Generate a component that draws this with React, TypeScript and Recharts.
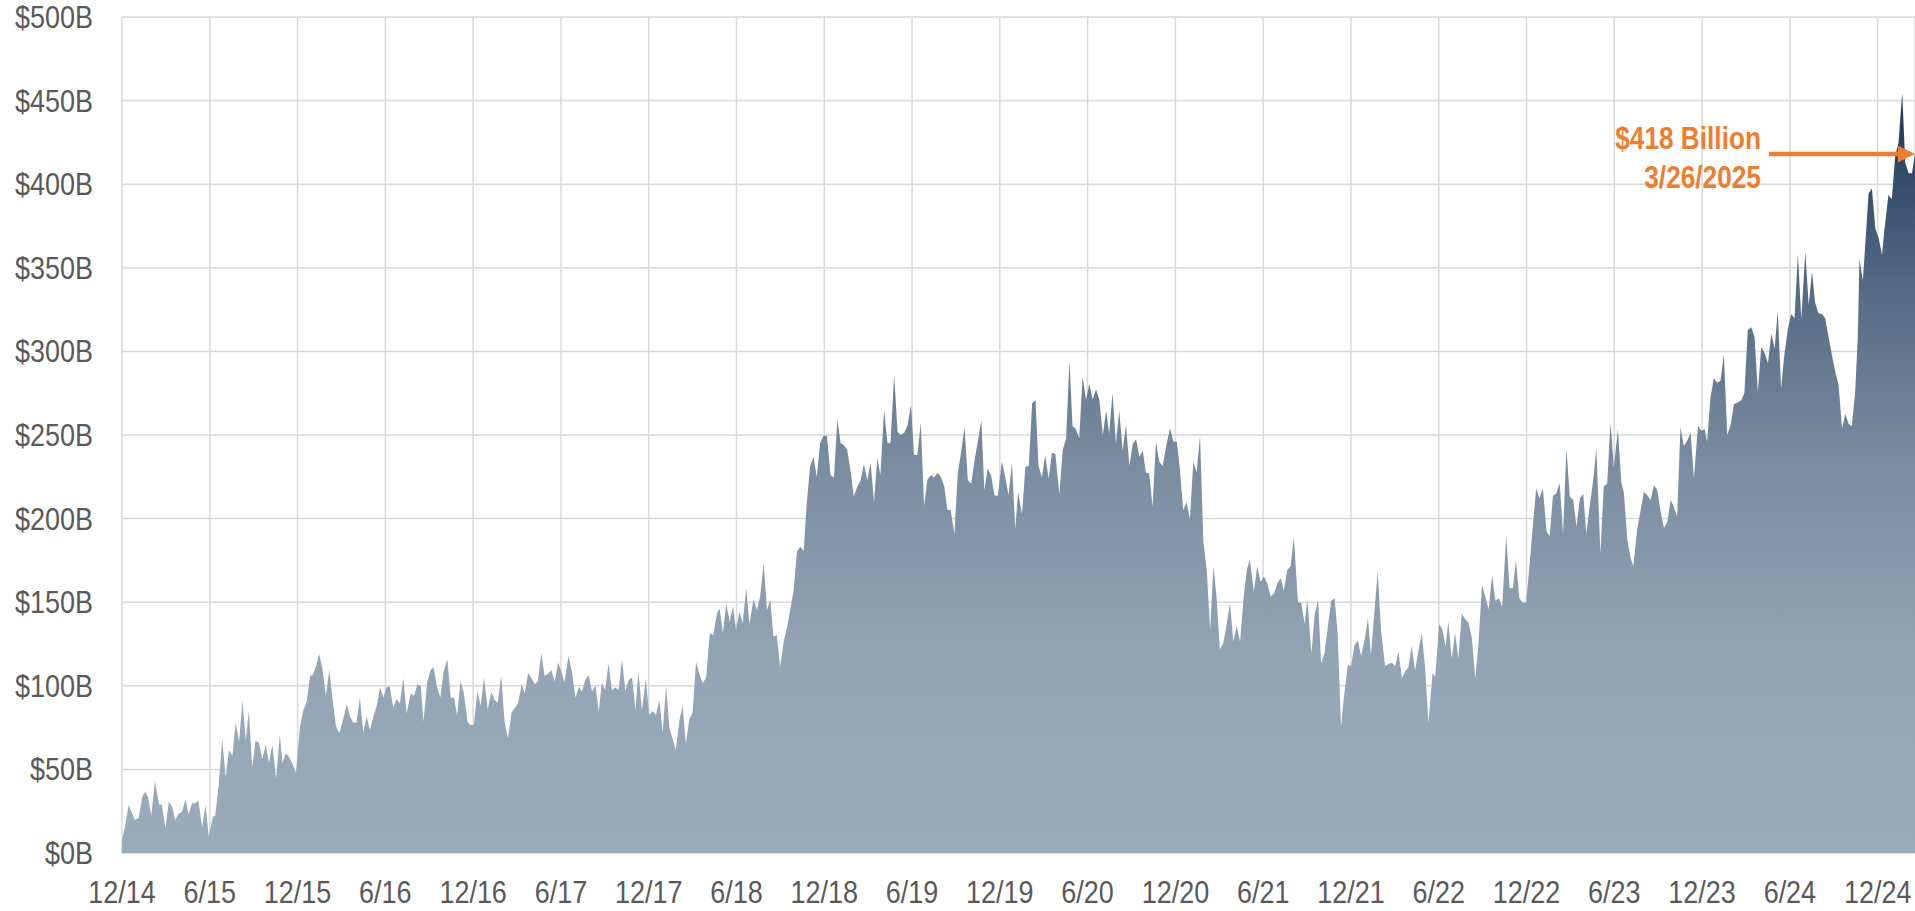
import { AreaChart, Area, XAxis, YAxis, CartesianGrid, ReferenceLine } from "recharts";

/* colours */
const C = {
  grid:   "#d9d9d9",
  text:   "#595959",
  orange: "#ed7d31",
};

// the reference uses a narrow face; Liberation Sans squeezed horizontally
const FONT = "'Liberation Sans', Arial, sans-serif";

// [weeks since 12/2014, $ billions]
const dec14_aug16: [number, number][] = [
  [0, 8], [0.8, 14.8], [2, 28.7], [3.8, 19.7], [5, 21.3], [6, 33.7], [6.9, 36.7], [7.7, 33.7], [8.7, 22.3],
  [9.8, 43], [11, 29], [11.8, 29], [12.9, 14.8], [13.9, 30.7], [14.9, 27.7], [15.8, 19.7], [16.8, 23.3],
  [17.8, 24.7], [18.9, 32], [19.8, 23], [20.8, 29.7], [21.8, 29.7], [22.7, 31.3], [23.8, 15.4], [24.8, 28.7],
  [25.8, 9.8], [27, 21.7], [27.7, 22.3], [28.7, 39.7], [29.8, 68], [30.8, 45.3], [31.8, 61.6], [32.8, 58],
  [33.8, 78], [34.8, 66.6], [35.8, 91], [36.8, 67.6], [37.7, 85], [38.7, 51.2], [39.7, 67.2], [40.7, 66],
  [41.7, 56], [42.7, 64.6], [43.7, 54], [44.7, 65], [45.8, 44.7], [46.9, 70.6], [47.7, 54], [48.7, 59.6],
  [49.7, 57.2], [50.7, 53.2], [51.7, 48], [52.9, 75.6], [53.9, 85.5], [54.9, 90.5], [55.9, 105.9],
  [56.7, 106.5], [57.7, 111.8], [58.6, 119], [59.6, 109.8], [60.6, 93.9], [61.6, 109.5], [62.6, 91.5],
  [63.6, 75.6], [64.6, 71.6], [65.6, 79], [66.8, 89], [67.8, 81.5], [68.7, 78], [69.7, 78], [70.7, 93],
  [71.7, 72], [72.7, 81.5], [73.7, 73.6], [74.7, 81.5], [75.7, 88], [76.7, 99], [77.7, 93], [78.7, 99.5],
  [79.6, 99.5], [80.6, 87], [81.6, 92], [82.6, 89.5], [83.6, 104.5], [84.6, 83.5], [85.8, 95.5], [86.8, 94],
  [87.8, 101],
];

const sep16_may18: [number, number][] = [
  [88.8, 99.9], [89.6, 78.5], [90.7, 102], [91.7, 109.4], [92.6, 111], [93.6, 99.5], [94.6, 93],
  [95.6, 108.5], [96.7, 115.8], [97.7, 92.9], [98.7, 93], [99.6, 82], [100.6, 103], [101.6, 95.5],
  [102.7, 78.5], [103.6, 76.6], [104.6, 76.6], [105.6, 97], [106.6, 88], [107.6, 105], [108.7, 86],
  [109.8, 96.5], [110.7, 91.5], [111.7, 90], [112.7, 106.5], [113.7, 78.5], [114.7, 68.6], [115.8, 84],
  [116.7, 86.5], [117.7, 89.5], [118.8, 101], [119.7, 95.5], [120.7, 107.5], [121.7, 104.5], [122.7, 101],
  [123.6, 102.5], [124.6, 119.4], [125.6, 106], [126.6, 107], [127.6, 109.4], [128.6, 102.5], [129.6, 113.8],
  [130.6, 108.5], [131.5, 101.9], [132.7, 117.8], [133.7, 108.5], [134.8, 93], [135.8, 99.5], [136.7, 96.5],
  [137.7, 103.5], [138.7, 106.5], [139.7, 96.5], [140.7, 100.5], [141.7, 84.5], [142.6, 101.9], [143.6, 97.5],
  [144.6, 113.4], [145.6, 97.5], [146.6, 99], [147.6, 97.5], [148.6, 115.8], [149.6, 97], [150.6, 103.5],
  [151.6, 105], [152.6, 85.5], [153.5, 108.5], [154.5, 85.5], [155.7, 104], [156.7, 82.5], [157.7, 85],
  [158.7, 82.5], [159.7, 91.5], [160.7, 72], [161.7, 100], [162.7, 74.6], [163.6, 68.6], [164.6, 61.6],
  [165.6, 78.5], [166.6, 88.5], [167.6, 65.2], [168.6, 80], [169.6, 84], [170.6, 114.4], [171.6, 107],
  [172.6, 101.5], [173.6, 105], [174.7, 131.4], [175.7, 130.4], [176.9, 143.7],
];

const may18_jan20: [number, number][] = [
  [177.6, 146.3], [178.6, 131.4], [179.6, 149], [180.6, 138.4], [181.6, 147.3], [182.5, 133.4], [183.5, 144.3],
  [184.5, 137.4], [185.5, 158.3], [186.5, 137], [187.7, 151.7], [188.7, 145.3], [189.7, 153.7], [190.7, 173.2],
  [191.7, 145.3], [192.7, 151.3], [193.6, 129.4], [194.6, 130.4], [195.6, 111.4], [196.6, 125.4],
  [197.6, 134.4], [198.6, 145.3], [199.6, 156.9], [200.6, 180.2], [201.6, 183.2], [202.6, 180.8],
  [203.5, 209.1], [204.5, 231], [205.5, 237], [206.5, 225], [207.5, 245], [208.5, 249.6], [209.5, 249.6],
  [210.6, 226], [211.6, 224.6], [212.6, 258.9], [213.6, 245], [214.5, 244], [215.5, 241.4], [216.5, 229],
  [217.5, 213], [218.5, 219], [219.5, 222.6], [220.5, 232.6], [221.5, 223], [222.5, 233.4], [223.5, 210],
  [224.5, 236.6], [225.4, 226], [226.5, 265], [227.5, 245.4], [228.4, 245], [229.5, 285.9], [230.5, 252],
  [231.5, 250], [232.5, 251.4], [233.5, 256], [234.5, 268], [235.4, 238], [236.4, 238], [237.4, 257],
  [238.4, 207.5], [239.4, 223.4], [240.4, 226], [241.4, 224.6], [242.4, 227.4], [243.4, 225], [244.4, 219],
  [245.3, 205.5], [246.3, 205], [247.4, 190.8], [248.4, 227], [249.4, 240], [250.4, 254.6], [251.4, 223],
  [252.4, 221], [253.4, 235], [254.4, 246.6], [255.4, 259], [256.3, 217], [257.3, 230], [258.3, 226],
  [259.3, 214], [260.3, 213.5], [261.5, 234], [262.5, 225], [263.5, 214], [264.5, 233.4], [265.5, 193.6],
];

const feb20_oct21: [number, number][] = [
  [266.3, 216], [267.5, 202.8], [268.5, 231], [269.5, 231.5], [270.5, 269], [271.5, 271], [272.4, 231.5],
  [273.4, 224.7], [274.4, 238], [275.4, 224], [276.4, 239.4], [277.4, 238.6], [278.6, 214.7], [279.6, 241],
  [280.6, 248], [281.6, 293.9], [282.5, 255.4], [283.5, 253.4], [284.5, 248], [285.5, 284.9], [286.5, 271],
  [287.5, 280.5], [288.5, 271.3], [289.5, 277.3], [290.5, 271], [291.5, 250], [292.5, 264.6], [293.4, 250.6],
  [294.4, 275.3], [295.4, 244.6], [296.4, 264.6], [297.4, 240.6], [298.4, 256], [299.4, 231.5], [300.4, 244.6],
  [301.4, 247.4], [302.4, 237], [303.4, 240.6], [304.3, 227.5], [305.3, 227], [306.3, 207.1], [307.3, 246],
  [308.3, 234], [309.3, 231.5], [310.5, 245], [311.5, 254], [312.5, 246], [313.5, 246], [314.4, 230],
  [315.4, 205], [316.4, 210], [317.4, 199.6], [318.4, 234], [319.4, 227.5], [320.4, 249.4], [321.4, 186.2],
  [322.4, 169.3], [323.4, 133.4], [324.4, 171.3], [325.3, 153.3], [326.3, 121.8], [327.3, 125.4],
  [328.3, 136.4], [329.3, 149.3], [330.3, 126.4], [331.3, 135.8], [332.3, 126.4], [333.3, 151.3],
  [334.3, 169.3], [335.2, 175.6], [336.4, 156.3], [337.4, 171.3], [338.4, 162.3], [339.4, 165.3],
  [340.4, 161.3], [341.4, 153.3], [342.4, 155.3], [343.4, 161.3], [344.4, 164.3], [345.3, 156.9],
  [346.3, 169.3], [347.3, 171.3], [348.3, 188.8], [349.5, 150.3], [350.5, 149.3], [351.5, 137],
  [352.3, 151.7], [353.5, 119.4], [354.5, 143], [355.5, 151.3],
];

const nov21_jun23: [number, number][] = [
  [356.4, 113.4], [357.4, 119.8], [358.4, 135.4], [359.4, 150.9], [360.4, 152.3], [361.3, 131.4], [362.3, 75.6],
  [363.3, 95.5], [364.3, 112.4], [365.3, 111.8], [366.3, 124.4], [367.3, 127], [368.3, 117.8], [369.3, 127.4],
  [370.3, 140.4], [371.2, 118.4], [372.2, 143.3], [373.2, 168.3], [374.2, 133.4], [375.4, 111.8], [376.4, 113],
  [377.4, 113.8], [378.4, 111.8], [379.4, 120.4], [380.4, 104.5], [381.4, 108.5], [382.3, 111], [383.3, 123.8],
  [384.3, 109], [385.3, 121], [386.3, 131.4], [387.3, 111], [388.3, 77.6], [389.5, 107.5], [390.3, 105.5],
  [391.5, 137], [392.4, 133.8], [393.4, 123.4], [394.2, 138.4], [395.2, 116.4], [396.2, 131.4], [397.2, 116.4],
  [398.2, 143.3], [399.2, 139.8], [400.2, 137.8], [401.2, 128.4], [402.2, 104.5], [403.1, 123.4],
  [404.2, 160.3], [405.2, 153.3], [406.2, 145.7], [407.2, 166.3], [408.2, 150.9], [409.2, 152.3],
  [410.2, 147.3], [411.4, 189.6], [412.4, 158.3], [413.4, 158.3], [414.3, 175.2], [415.3, 152.3],
  [416.3, 149.7], [417.3, 149.7], [418.3, 171.3], [419.3, 195.2], [420.3, 218.1], [421.3, 212.1],
  [422.3, 218.1], [423.4, 192.2], [424.3, 189.6], [425.3, 213.5], [426.3, 215.1], [427.3, 221.1],
  [428.3, 191.2], [429.3, 242], [430.3, 213.1], [431.3, 211.1], [432.3, 195.2], [433.3, 212.1],
  [434.3, 214.7], [435.2, 190.8], [436.2, 207.1], [437.2, 222.1], [438.2, 242], [439.4, 179.2],
  [440.4, 219.5], [441.4, 220.7], [442.4, 257.4], [443.4, 230.7], [444.6, 253.4],
];

const jul23_mar25: [number, number][] = [
  [445.6, 222], [446.4, 215], [447.4, 187.2], [448.4, 176.2], [449.2, 171.7], [450.3, 193.2], [451.3, 204.2],
  [452.3, 216.1], [453.3, 214.1], [454.3, 211.1], [455.3, 220], [456.3, 217.1], [457.3, 204.2], [458.3, 194.2],
  [459.3, 198.2], [460.3, 211.1], [461.2, 207.1], [462.2, 201.2], [463.2, 254.6], [464.2, 243.4],
  [465.2, 246.6], [466.2, 251.4], [467.2, 224], [468.4, 255.4], [469.4, 252.6], [470.4, 253.4], [471.1, 246],
  [472.1, 272], [473.1, 283.9], [474.1, 281.3], [475.1, 282.5], [476.1, 297.9], [477.1, 250], [478.1, 256],
  [479.1, 268.5], [480.1, 269.3], [481.3, 271], [482.2, 275.3], [483.2, 312.8], [484.2, 314.4], [485.2, 308.8],
  [486.2, 275.9], [487.2, 302.4], [488.2, 299.2], [489.2, 292.9], [490.2, 310.4], [491.2, 301.8],
  [492.1, 324.3], [493.1, 277.9], [494.1, 298.4], [495.1, 313.2], [496.1, 322.4], [497.1, 319.8],
  [498.1, 358.3], [499.1, 319.2], [500.3, 359.6], [501.3, 327.8], [502.3, 347.7], [503.2, 329.2],
  [504.2, 322.8], [505.2, 322.4], [506.2, 319.8], [507.2, 308.8], [508.2, 297.9], [509.2, 287.9],
  [510.2, 279.9], [511.2, 254], [512.2, 262.6], [513.2, 256.6], [514.1, 255.4], [515.1, 274.9],
  [515.9, 308.8], [516.4, 355.1], [517.4, 342.3], [518.4, 372.6], [519.1, 394.5], [520.1, 397.5],
  [521.1, 373.6], [522.1, 367.6], [523.1, 357.7], [523.8, 372.6], [525, 393.5], [526, 391], [527, 416.5],
  [528, 424.8], [529.1, 454.4], [530, 412.9], [531, 406.5], [532, 406.5], [532.9, 418],
];

const X_LABELS = [
  "12/14", "6/15", "12/15", "6/16", "12/16", "6/17", "12/17", "6/18", "12/18", "6/19", "12/19",
  "6/20", "12/20", "6/21", "12/21", "6/22", "12/22", "6/23", "12/23", "6/24", "12/24",
];
const Y_TICKS = [0, 50, 100, 150, 200, 250, 300, 350, 400, 450, 500];
const CALLOUT = { value: "$418 Billion", date: "3/26/2025" };

// fill fades quickly from navy at the peak to grey-blue
const FILL_STOPS = [
  { at: "0%",   color: "#1c3557" },
  { at: "25%",  color: "#546983" },
  { at: "50%",  color: "#7b8ea2" },
  { at: "75%",  color: "#93a4b5" },
  { at: "100%", color: "#9babbb" },
];

const HALF_YEAR = 26.09; // weeks
const X_TICKS = X_LABELS.map((_, i) => i * HALF_YEAR);

const data = [...dec14_aug16, ...sep16_may18, ...may18_jan20, ...feb20_oct21, ...nov21_jun23, ...jul23_mar25]
  .map(([w, v]) => ({ w, v }));
const last = data[data.length - 1];

function NarrowText({ x, y, anchor, dy, size, squeeze, bold, color, children }: any) {
  return (
    <text
      transform={`translate(${x},${y}) scale(${squeeze},1)`}
      textAnchor={anchor}
      dy={dy}
      fill={color}
      fontFamily={FONT}
      fontSize={size}
      fontWeight={bold ? "bold" : "normal"}
    >
      {children}
    </text>
  );
}

const XTick = (p: any) => (
  <NarrowText x={p.x} y={p.y} anchor="middle" dy="0.71em" size={31} squeeze={0.87} color={C.text}>
    {X_LABELS[Math.round(p.payload.value / HALF_YEAR)]}
  </NarrowText>
);

const YTick = (p: any) => (
  <NarrowText x={p.x} y={p.y} anchor="end" dy="0.355em" size={31} squeeze={0.87} color={C.text}>
    {`$${p.payload.value}B`}
  </NarrowText>
);

function Arrow(props: any) {
  const { x1, y1, x2 } = props;
  const head = 17;
  return (
    <g>
      <line x1={x1} y1={y1} x2={x2 - head} y2={y1} stroke={C.orange} strokeWidth={4.5} />
      <polygon points={`${x2},${y1} ${x2 - head},${y1 - 8.5} ${x2 - head},${y1 + 8.5}`} fill={C.orange} />
      <NarrowText x={x1 - 8} y={y1 - 5} anchor="end" size={32} squeeze={0.82} bold color={C.orange}>
        {CALLOUT.value}
      </NarrowText>
      <NarrowText x={x1 - 8} y={y1 + 34} anchor="end" size={32} squeeze={0.82} bold color={C.orange}>
        {CALLOUT.date}
      </NarrowText>
    </g>
  );
}

export default function App() {
  return (
    <div style={{ position: "fixed", left: 0, top: 0, width: 1915, height: 911, background: "#fff" }}>
      <AreaChart width={1915} height={911} data={data} margin={{ top: 17, right: 0, bottom: 0, left: 0 }}>
        <defs>
          <linearGradient id="fillGrad" x1="0" y1="0" x2="0" y2="1">
            {FILL_STOPS.map((s) => (
              <stop key={s.at} offset={s.at} stopColor={s.color} />
            ))}
          </linearGradient>
        </defs>
        <CartesianGrid stroke={C.grid} strokeWidth={1.5} />
        <XAxis
          type="number"
          dataKey="w"
          domain={[0, last.w]}
          ticks={X_TICKS}
          interval={0}
          tick={XTick}
          tickSize={0}
          tickMargin={28}
          axisLine={false}
          height={58}
        />
        <YAxis
          type="number"
          domain={[0, 500]}
          ticks={Y_TICKS}
          interval={0}
          tick={YTick}
          tickSize={0}
          tickMargin={29}
          axisLine={false}
          width={122}
        />
        <Area
          type="linear"
          dataKey="v"
          stroke="none"
          fill="url(#fillGrad)"
          fillOpacity={1}
          isAnimationActive={false}
        />
        <ReferenceLine
          segment={[{ x: last.w - 43.4, y: last.v }, { x: last.w, y: last.v }]}
          shape={Arrow}
          ifOverflow="visible"
        />
      </AreaChart>
    </div>
  );
}
